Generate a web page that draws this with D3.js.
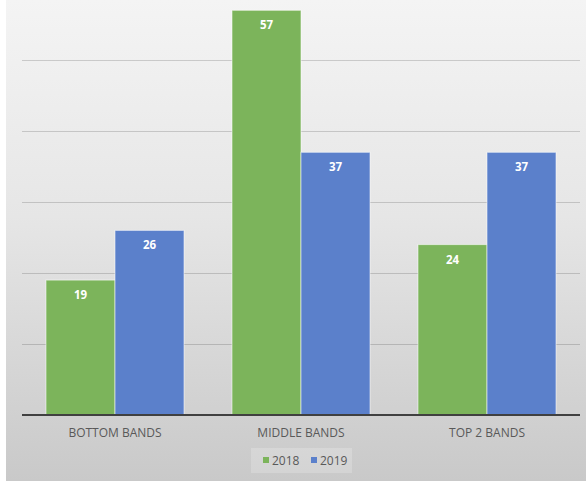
<!DOCTYPE html>
<html><head><meta charset="utf-8">
<script src="https://cdn.jsdelivr.net/npm/d3@7/dist/d3.min.js"></script>
<style>html,body{margin:0;padding:0;background:#fff;}svg{display:block;}</style>
</head><body>
<script>
const categories = ["BOTTOM BANDS", "MIDDLE BANDS", "TOP 2 BANDS"];
const seriesNames = ["2018", "2019"];
const values2018 = [19, 57, 24];
const values2019 = [26, 37, 37];
const yTicks = [0, 10, 20, 30, 40, 50, 60];
const colors = ["#7cb45b", "#5b80cb"];

const W = 586, H = 483;
const svg = d3.select("body").append("svg").attr("width", W).attr("height", H);
const defs = svg.append("defs");
const g = defs.append("linearGradient").attr("id","bg").attr("x1",0).attr("y1",0).attr("x2",0).attr("y2",1);
g.append("stop").attr("offset","0%").attr("stop-color","#f4f4f4");
g.append("stop").attr("offset","45%").attr("stop-color","#e6e6e6");
g.append("stop").attr("offset","100%").attr("stop-color","#c9c9c9");
svg.append("rect").attr("x",6).attr("y",0).attr("width",W-6).attr("height",481).attr("fill","url(#bg)");

const left = 22, right = 580, base = 415;
const x0 = d3.scaleBand().domain(categories).range([left, right]).paddingInner(0.258).paddingOuter(0.129);
const x1 = d3.scaleBand().domain(seriesNames).range([0, x0.bandwidth()]).padding(0);
const y = d3.scaleLinear().domain([0, 60]).range([base, base - 426]);

// gridlines
svg.append("g").selectAll("line").data(yTicks.filter(t => t > 0)).join("line")
  .attr("x1", left).attr("x2", right)
  .attr("y1", d => Math.round(y(d)) + 0.5).attr("y2", d => Math.round(y(d)) + 0.5)
  .attr("stroke", "#000").attr("stroke-opacity", 0.16).attr("stroke-width", 1);

const data = categories.map((c, i) => ({cat: c, vals: [
  {s: seriesNames[0], v: values2018[i], c: colors[0]},
  {s: seriesNames[1], v: values2019[i], c: colors[1]}]}));

const groups = svg.append("g").selectAll("g").data(data).join("g")
  .attr("transform", d => `translate(${x0(d.cat)},0)`);
groups.selectAll("rect").data(d => d.vals).join("rect")
  .attr("x", d => x1(d.s)).attr("width", x1.bandwidth())
  .attr("y", d => y(d.v)).attr("height", d => base - y(d.v))
  .attr("fill", d => d.c).attr("stroke", "#ffffff").attr("stroke-opacity", 0.55).attr("stroke-width", 1);
groups.selectAll("text").data(d => d.vals).join("text")
  .attr("x", d => x1(d.s) + x1.bandwidth() / 2).attr("y", d => y(d.v) + 19)
  .attr("text-anchor", "middle").attr("fill", "#fff")
  .style("font-family", "'Open Sans', sans-serif").style("font-size", "11.5px").style("font-weight", "bold")
  .text(d => d.v);

// baseline axis
const xAxis = d3.axisBottom(x0).tickSize(0).tickPadding(13);
const ax = svg.append("g").attr("transform", `translate(0,${base})`).call(xAxis);
ax.select(".domain").remove();
ax.selectAll("text").attr("fill", "#595959").style("font-family", "'Open Sans', sans-serif").style("font-size", "12px");
svg.append("line").attr("x1", left).attr("x2", right).attr("y1", base).attr("y2", base)
  .attr("stroke", "#404040").attr("stroke-width", 2);

// legend
const lg = svg.append("g");
lg.append("rect").attr("x", 251).attr("y", 448).attr("width", 101).attr("height", 25).attr("fill", "#ffffff").attr("fill-opacity", 0.2);
const items = [{n: seriesNames[0], c: colors[0], x: 263}, {n: seriesNames[1], c: colors[1], x: 311}];
items.forEach(it => {
  lg.append("rect").attr("x", it.x).attr("y", 457).attr("width", 6).attr("height", 6).attr("fill", it.c);
  lg.append("text").attr("x", it.x + 9).attr("y", 465).attr("fill", "#595959")
    .style("font-family", "'Open Sans', sans-serif").style("font-size", "12px").text(it.n);
});
</script>
</body></html>
